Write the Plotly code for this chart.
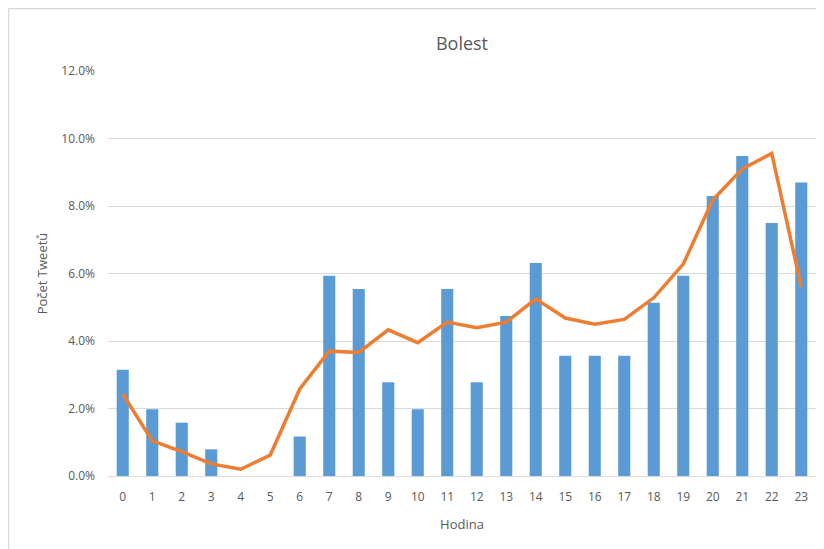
import plotly.graph_objects as go

hours = [str(h) for h in range(24)]
bar_values = [3.15, 1.98, 1.58, 0.79, 0.0, 0.0, 1.17, 5.93, 5.54, 2.78, 1.98, 5.54,
              2.78, 4.74, 6.31, 3.56, 3.56, 3.56, 5.13, 5.93, 8.30, 9.48, 7.50, 8.70]
line_values = [2.43, 1.04, 0.72, 0.36, 0.20, 0.62, 2.58, 3.70, 3.66, 4.33, 3.95, 4.56,
               4.39, 4.56, 5.25, 4.68, 4.50, 4.64, 5.28, 6.28, 8.18, 9.10, 9.56, 5.60]
y_ticks = [0, 2, 4, 6, 8, 10, 12]

font_fam = "Open Sans, Liberation Sans, sans-serif"
grey = "#595959"

W, H = 816, 541
L, R, T, B = 100, 8, 63, 73
PW, PH = W - L - R, H - T - B

fig = go.Figure()
fig.add_trace(go.Bar(x=hours, y=bar_values, marker=dict(color="#5B9BD5", line=dict(width=0)),
                     showlegend=False))
fig.add_trace(go.Scatter(x=hours, y=line_values, mode="lines",
                         line=dict(color="#ED7D31", width=3.5), showlegend=False))

fig.update_layout(
    width=W, height=H,
    paper_bgcolor="white", plot_bgcolor="white",
    margin=dict(l=L, r=R, t=T, b=B),
    bargap=0.59,
    title=dict(text="Bolest", x=0.5, xref="paper", xanchor="center",
               y=1 - 36 / H, yref="container", yanchor="middle",
               font=dict(family=font_fam, size=18, color=grey)),
    font=dict(family=font_fam, size=12, color=grey),
    xaxis=dict(type="category", showgrid=False, showline=True, linecolor="#D9D9D9", linewidth=1,
               ticks="", ticklabelstandoff=10, tickfont=dict(size=12, color=grey),
               title=dict(text="Hodina", font=dict(size=13, color=grey), standoff=15)),
    yaxis=dict(range=[0, 12], tickvals=y_ticks, ticktext=[f"{v:.1f}%" for v in y_ticks],
               showgrid=True, gridcolor="#D9D9D9", gridwidth=1, zeroline=False,
               ticks="", ticklen=0, ticklabelstandoff=12, tickfont=dict(size=12, color=grey),
               title=dict(text="Počet Tweetů", font=dict(size=13, color=grey), standoff=10)),
    shapes=[
        dict(type="line", xref="paper", yref="paper",
             x0=(0.5 - L) / PW, x1=(0.5 - L) / PW, y0=-B / PH, y1=1 + (T - 0.5) / PH,
             line=dict(color="#D9D9D9", width=1.5)),
        dict(type="line", xref="paper", yref="paper",
             x0=(0.5 - L) / PW, x1=1 + R / PW, y0=1 + (T - 0.5) / PH, y1=1 + (T - 0.5) / PH,
             line=dict(color="#D9D9D9", width=1.5)),
    ],
)

fig.write_html("out.html")
